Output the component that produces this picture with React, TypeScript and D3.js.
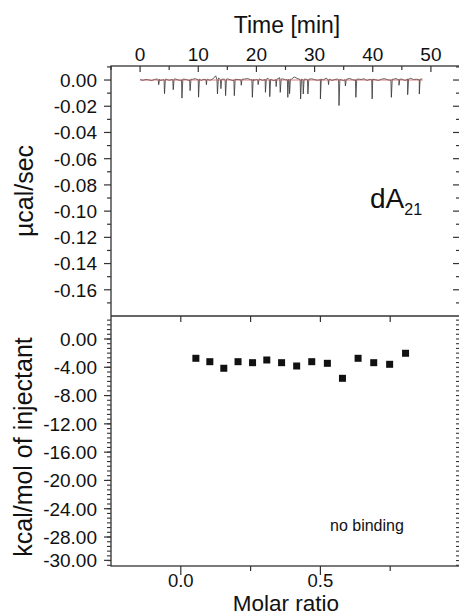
import React from "react";
import * as d3 from "d3";

// ---- data ----
// Raw thermogram: baseline samples (µcal/s ×1e-3) every half minute from t = 0
const traceStart = 0;
const traceStep = 0.5;
const baselineNoise = [
  0.3, -0.2, 0.4, 0.1, -0.4, 0.5, 0.8, -0.3, 0.2, 0.6,
  -0.2, 0.4, 0.9, 0.1, -0.3, 0.7, 0.3, -0.4, 0.5, 1.0,
  0.2, -0.3, 0.6, 0.4, -0.2, 0.8, 3.2, 1.5, -0.3, 0.6,
  0.9, 0.2, -0.4, 0.5, 0.3, -0.2, 0.7, 1.1, 0.2, -0.3,
  0.4, 0.8, -0.2, 0.5, 1.3, 0.3, -0.4, 0.6, 1.8, 0.9,
  0.2, -0.3, 0.5, 2.4, 1.2, 0.4, -0.3, 0.6, 0.2, 0.9,
  0.3, -0.2, 0.5, 0.1, 1.4, 0.6, -0.3, 0.4, 0.8, 0.2,
  -0.4, 0.5, 1.2, 0.3, -0.2, 0.7, 0.4, 0.9, -0.3, 0.5,
  0.8, 0.2, -0.3, 0.6, 1.0, 0.3, -0.2, 0.5, 1.1, 0.4,
  0.7, -0.3, 0.9, 1.3, 0.4, 0.6, 0.2, 0.8,
];
// Downward spikes in the thermogram (time in min, depth in µcal/s)
const spikeTimes = [
  3.2, 4.2, 5.7, 7.2, 8.6, 10.05, 11.4, 13.3, 13.9, 14.7, 16.2, 17.4, 19.3,
  20.3, 21.55, 22.3, 23.4, 24.1, 25.4, 25.7, 27.6, 28.05, 28.85, 31.0, 32.4,
  34.2, 35.3, 37.1, 39.9, 43.2, 44.5, 46.0, 48.0,
];
const spikeDepths = [
  -0.0036, -0.0104, -0.0074, -0.0138, -0.0081, -0.0131, -0.0036, -0.0106,
  -0.0066, -0.0119, -0.0119, -0.004, -0.0132, -0.0035, -0.0094, -0.0127,
  -0.005, -0.0094, -0.0132, -0.0104, -0.0144, -0.0106, -0.0106, -0.0144,
  -0.0035, -0.0195, -0.0045, -0.0132, -0.0144, -0.0132, -0.004, -0.0112,
  -0.0106,
];
const fitStart = 0;
const fitEnd = 48.6;
const fitValue = 0;

// Integrated heats
const molarRatio = [
  0.054, 0.104, 0.154, 0.205, 0.257, 0.308, 0.361, 0.415, 0.469, 0.525, 0.579,
  0.635, 0.691, 0.748, 0.805,
];
const heat = [
  -2.73, -3.21, -4.14, -3.21, -3.35, -2.97, -3.35, -3.82, -3.21, -3.44, -5.56,
  -2.73, -3.35, -3.58, -2.02,
];

// Ticks
const timeTicks = [0, 10, 20, 30, 40, 50];
const timeMinorTicks = [-5, 5, 15, 25, 35, 45, 55];
const topYTicks = [0, -0.02, -0.04, -0.06, -0.08, -0.1, -0.12, -0.14, -0.16];
const topYTickLabels = ["0.00", "-0.02", "-0.04", "-0.06", "-0.08", "-0.10", "-0.12", "-0.14", "-0.16"];
const topYMinorTicks = [0.01, -0.01, -0.03, -0.05, -0.07, -0.09, -0.11, -0.13, -0.15, -0.17];
const bottomYTicks = [0, -4, -8, -12, -16, -20, -24, -28, -31.3];
const bottomYTickLabels = ["0.00", "-4.00", "-8.00", "-12.00", "-16.00", "-20.00", "-24.00", "-28.00", "-30.00"];
const molarTicks = [0, 0.5];
const molarMinorTicks = [0.25, 0.75];
const molarTickLabels = ["0.0", "0.5"];

const FONT = "'Liberation Sans', Arial, Helvetica, sans-serif";
const AX = "#333";

export default function App() {
  const left = 111;
  const right = 460;
  const top = 66;
  const mid = 316;
  const bottom = 566;

  const xTime = d3.scaleLinear().domain([-5, 55]).range([left, right]);
  const yTop = d3.scaleLinear().domain([-0.18, 0.0107]).range([mid, top]);
  const xMolar = d3.scaleLinear().domain([-0.25, 1.0]).range([left, right]);
  const yBot = d3.scaleLinear().domain([-32.1, 3.25]).range([bottom, mid]);

  // build thermogram points
  const pts: [number, number][] = baselineNoise.map((v, i) => [traceStart + i * traceStep, v / 1000]);
  spikeTimes.forEach((t, i) => {
    pts.push([t - 0.08, 0.0002]);
    pts.push([t, spikeDepths[i]]);
    pts.push([t + 0.15, 0.0006]);
  });
  pts.sort((a, b) => a[0] - b[0]);
  const line = d3
    .line<[number, number]>()
    .x((d) => xTime(d[0]))
    .y((d) => yTop(d[1]));

  const bottomMinor: number[] = [];
  for (let k = -4; k <= 48; k++) bottomMinor.push((-2 / 3) * k);

  return (
    <svg
      width={459}
      height={616}
      style={{ position: "absolute", left: 0, top: 0, background: "#fff" }}
      fontFamily={FONT}
    >
      <rect x={0} y={0} width={459} height={616} fill="#fff" />
      {/* frames */}
      <rect x={left} y={top} width={right - left} height={bottom - top} fill="none" stroke={AX} strokeWidth={1.3} />
      <line x1={left} x2={right} y1={mid} y2={mid} stroke={AX} strokeWidth={1.3} />

      {/* top time axis */}
      {timeTicks.map((t, i) => (
        <g key={"tt" + i}>
          <line x1={xTime(t)} x2={xTime(t)} y1={top} y2={top + 6} stroke={AX} strokeWidth={1.2} />
          <text x={xTime(t)} y={61} fontSize={19} textAnchor="middle" fill="#111">
            {t}
          </text>
        </g>
      ))}
      {timeMinorTicks.map((t, i) => (
        <line key={"tm" + i} x1={xTime(t)} x2={xTime(t)} y1={top} y2={top + 4} stroke={AX} strokeWidth={1.2} />
      ))}
      <text x={287} y={33} fontSize={23} textAnchor="middle" fill="#111">
        Time [min]
      </text>

      {/* top y axis */}
      {topYTicks.map((v, i) => (
        <g key={"ty" + i}>
          <line x1={left - 7} x2={left} y1={yTop(v)} y2={yTop(v)} stroke={AX} strokeWidth={1.2} />
          <line x1={right - 7} x2={right} y1={yTop(v)} y2={yTop(v)} stroke={AX} strokeWidth={1.2} />
          <text x={97} y={yTop(v)} dy="0.36em" fontSize={19} textAnchor="end" fill="#111">
            {topYTickLabels[i]}
          </text>
        </g>
      ))}
      {topYMinorTicks.map((v, i) => (
        <g key={"tym" + i}>
          <line x1={left - 4} x2={left} y1={yTop(v)} y2={yTop(v)} stroke={AX} strokeWidth={1.2} />
          <line x1={right - 4} x2={right} y1={yTop(v)} y2={yTop(v)} stroke={AX} strokeWidth={1.2} />
        </g>
      ))}
      <text
        transform={`translate(33, 191) rotate(-90)`}
        fontSize={25}
        textAnchor="middle"
        fill="#111"
      >
        µcal/sec
      </text>

      {/* thermogram */}
      <path d={line(pts) || ""} fill="none" stroke="#333" strokeWidth={0.8} />
      <line
        x1={xTime(fitStart)}
        x2={xTime(fitEnd)}
        y1={yTop(fitValue)}
        y2={yTop(fitValue)}
        stroke="#c85a5a"
        strokeWidth={0.9}
        opacity={0.85}
      />
      <text x={370} y={208} fontSize={28} fill="#111">
        dA
        <tspan fontSize={16} dy={7}>
          21
        </tspan>
      </text>

      {/* bottom panel y axis */}
      {bottomYTicks.map((v, i) => (
        <g key={"by" + i}>
          <line x1={left - 7} x2={left} y1={yBot(v)} y2={yBot(v)} stroke={AX} strokeWidth={1.2} />
          <text x={97} y={yBot(v)} dy="0.36em" fontSize={19} textAnchor="end" fill="#111">
            {bottomYTickLabels[i]}
          </text>
        </g>
      ))}
      {bottomMinor.map((v, i) => (
        <g key={"bym" + i}>
          <line x1={left - 4} x2={left} y1={yBot(v)} y2={yBot(v)} stroke={AX} strokeWidth={1.1} />
          <line x1={right - 4} x2={right} y1={yBot(v)} y2={yBot(v)} stroke={AX} strokeWidth={1.1} />
        </g>
      ))}
      <text
        transform={`translate(32, 447) rotate(-90)`}
        fontSize={25}
        textAnchor="middle"
        fill="#111"
      >
        kcal/mol of injectant
      </text>

      {/* molar ratio axis */}
      {molarTicks.map((m, i) => (
        <g key={"mx" + i}>
          <line x1={xMolar(m)} x2={xMolar(m)} y1={bottom} y2={bottom + 9} stroke={AX} strokeWidth={1.2} />
          <line x1={xMolar(m)} x2={xMolar(m)} y1={mid} y2={mid + 6} stroke={AX} strokeWidth={1.2} />
          <text x={xMolar(m)} y={586.5} fontSize={18.5} textAnchor="middle" fill="#111">
            {molarTickLabels[i]}
          </text>
        </g>
      ))}
      {molarMinorTicks.map((m, i) => (
        <g key={"mxm" + i}>
          <line x1={xMolar(m)} x2={xMolar(m)} y1={bottom} y2={bottom + 5} stroke={AX} strokeWidth={1.2} />
          <line x1={xMolar(m)} x2={xMolar(m)} y1={mid} y2={mid + 6} stroke={AX} strokeWidth={1.2} />
        </g>
      ))}
      <text x={286} y={610.5} fontSize={22.5} textAnchor="middle" fill="#111">
        Molar ratio
      </text>

      {/* integrated heats */}
      {molarRatio.map((m, i) => (
        <rect key={"sq" + i} x={xMolar(m) - 3.5} y={yBot(heat[i]) - 3.5} width={7} height={7} fill="#111" />
      ))}
      <text x={330} y={531} fontSize={16} fill="#111">
        no binding
      </text>
    </svg>
  );
}
